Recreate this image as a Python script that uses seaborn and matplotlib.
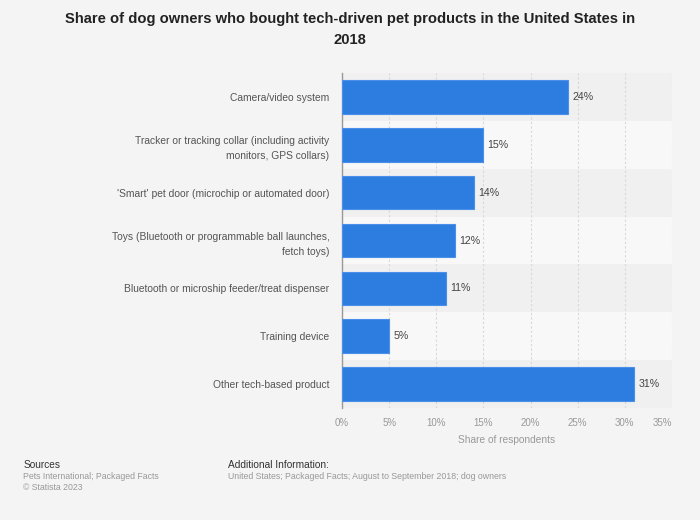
import matplotlib
matplotlib.use("Agg")
import matplotlib.pyplot as plt
import seaborn as sns
import pandas as pd

categories = [
    "Camera/video system",
    "Tracker or tracking collar (including activity\nmonitors, GPS collars)",
    "'Smart' pet door (microchip or automated door)",
    "Toys (Bluetooth or programmable ball launches,\nfetch toys)",
    "Bluetooth or microship feeder/treat dispenser",
    "Training device",
    "Other tech-based product",
]
shares = [24, 15, 14, 12, 11, 5, 31]
xticks = [0, 5, 10, 15, 20, 25, 30, 35]

df = pd.DataFrame({"product": categories, "share": shares})

sns.set_style("white")
plt.rcParams["font.family"] = ["Liberation Sans", "DejaVu Sans"]

bg = "#f4f4f4"
fig = plt.figure(figsize=(7, 5.2), dpi=100, facecolor=bg)
ax = fig.add_axes([0.4886, 0.2154, 0.4714, 0.644])
ax.set_facecolor(bg)

# alternating row bands
for i in range(len(categories)):
    ax.axhspan(i - 0.5, i + 0.5, color="#f0f0f0" if i % 2 == 0 else "#f8f8f8", zorder=0, lw=0)

sns.barplot(data=df, x="share", y="product", orient="h", color="#2d7de0",
            edgecolor="#4a90ea", linewidth=0.8, width=0.7, saturation=1, ax=ax, zorder=3)

for i, v in enumerate(shares):
    ax.text(v + 0.45, i, f"{v}%", va="center", ha="left", fontsize=7.7, color="#444444", zorder=4)

ax.set_xlim(0, 35)
ax.set_ylim(len(categories) - 0.5, -0.5)
ax.set_xticks(xticks)
ax.set_xticklabels([f"{t}%" for t in xticks], fontsize=7, color="#999999")
ax.get_xticklabels()[-1].set_horizontalalignment("right")
ax.tick_params(axis="x", length=0, pad=7)
ax.tick_params(axis="y", length=0, pad=9)
for lab in ax.get_yticklabels():
    lab.set_fontsize(7.4)
    lab.set_color("#555555")
    lab.set_multialignment("right")
    lab.set_linespacing(1.65)

ax.xaxis.grid(True, linestyle=(0, (2, 2)), color="#d8d8d8", linewidth=0.8, zorder=1)
ax.set_axisbelow(True)
ax.set_ylabel("")
ax.set_xlabel("Share of respondents", fontsize=7.3, color="#999999", labelpad=5)
for s in ["top", "right", "bottom"]:
    ax.spines[s].set_visible(False)
ax.spines["left"].set_color("#999999")
ax.spines["left"].set_linewidth(1)

fig.text(0.5, 0.977, "Share of dog owners who bought tech-driven pet products in the United States in\n2018",
         ha="center", va="top", fontsize=10.6, fontweight="bold", color="#222222", linespacing=1.6)

fig.text(0.033, 0.1, "Sources", fontsize=7.3, color="#333333")
fig.text(0.033, 0.078, "Pets International; Packaged Facts", fontsize=6.3, color="#999999")
fig.text(0.033, 0.057, "\u00a9 Statista 2023", fontsize=6.3, color="#999999")
fig.text(0.325, 0.1, "Additional Information:", fontsize=7.3, color="#333333")
fig.text(0.325, 0.078, "United States; Packaged Facts; August to September 2018; dog owners",
         fontsize=6.3, color="#999999")

fig.savefig("out.png", dpi=100, facecolor=bg)
